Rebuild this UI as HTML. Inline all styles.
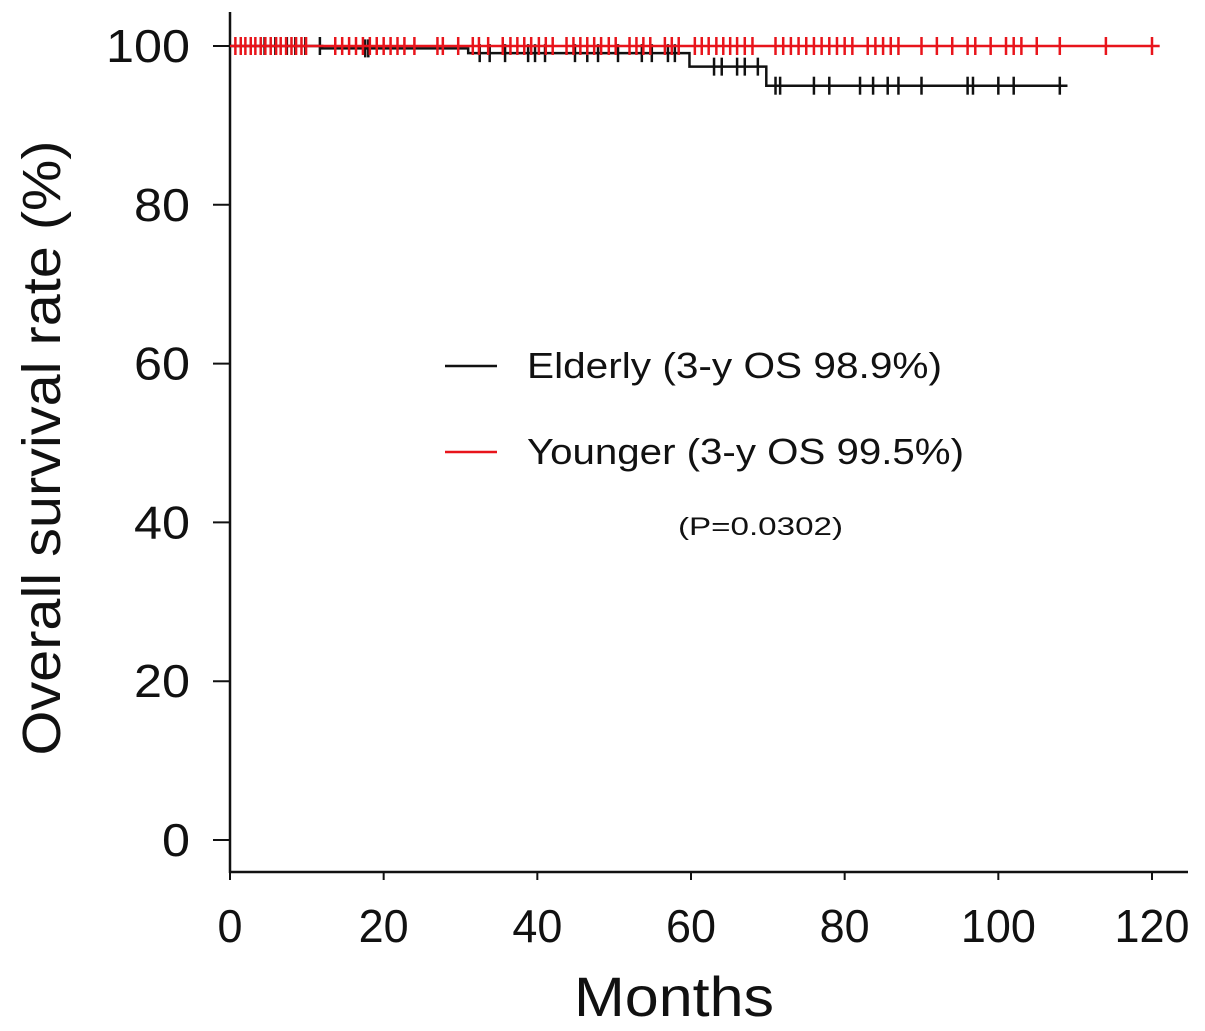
<!DOCTYPE html>
<html><head><meta charset="utf-8"><style>
html,body{margin:0;padding:0;background:#fff;}
svg{display:block;font-family:"Liberation Sans",sans-serif;}
</style></head><body>
<svg id="chart" width="1205" height="1031" viewBox="0 0 1205 1031">
<g id="axes"></g>
<g id="curves"></g>
<g>
 <line x1="445" y1="366" x2="497" y2="366" stroke="#111" stroke-width="2.5"/>
 <text x="527" y="378" font-size="36" textLength="415" lengthAdjust="spacingAndGlyphs" fill="#111">Elderly (3-y OS 98.9%)</text>
 <line x1="445" y1="452" x2="497" y2="452" stroke="#e8141b" stroke-width="2.5"/>
 <text x="527" y="464" font-size="36" textLength="437" lengthAdjust="spacingAndGlyphs" fill="#111">Younger (3-y OS 99.5%)</text>
 <text x="678" y="535" font-size="25" textLength="165" lengthAdjust="spacingAndGlyphs" fill="#111">(P=0.0302)</text>
</g>
</svg>
<script>
const xTicks=[0,20,40,60,80,100,120];
const yTicks=[0,20,40,60,80,100];
const elderlyStepTimes=[0,12,31,59.8,69.8,109];
const elderlyStepValues=[100,99.7,99.1,97.4,95.0,95.0];
const elderlyCensor=[4.5,5.9,7.4,8.5,9.8,11.7,17.6,18,32.5,33.8,35.8,38.8,39.7,41,44.9,46.5,47.9,50.5,53.6,54.9,57,57.9,63,64,66,67,68.7,71,71.6,76,78,82,83.7,85.6,87,90,96,96.7,100,102,108];
const youngerStepTimes=[0,121];
const youngerStepValues=[100,100];
const youngerCensor=[0.7,1.4,2,2.7,3.3,4,4.6,5.3,6,6.6,7.3,8,8.6,9.3,9.9,13.7,14.6,15.5,16.4,17.3,18.2,19.1,20,20.9,21.8,22.7,24,27,27.7,29.7,31.6,32.4,33.6,35.5,36.5,37.4,38.3,39.2,40.2,41.1,42,43.8,44.7,45.6,46.5,47.4,48.3,49.3,50.2,52,52.9,53.8,54.7,56.6,57.5,58.4,60.5,61.4,62.3,63.3,64.2,65.1,66,67,68,71,72,73,74,75,76,77,78,79,80,81,83,84,85,86,87,90,92,94,96,97,99,101,102,103,105,108,114,120];
const NS="http://www.w3.org/2000/svg";
const X=m=>230+m*(1152-230)/120;
const Y=v=>840-v*(840-46)/100;
function mk(tag,attrs,parent){const e=document.createElementNS(NS,tag);for(const k in attrs)e.setAttribute(k,attrs[k]);parent.appendChild(e);return e;}
const ax=document.getElementById('axes');
const ya=mk('line',{x1:230,y1:12,x2:230,y2:873,stroke:'#111','stroke-width':2.5},ax);


const xa=mk('line',{x1:229,y1:872,x2:1188,y2:872,stroke:'#111','stroke-width':2.5},ax);


xTicks.forEach(t=>{
 const l=mk('line',{x1:X(t),y1:872,x2:X(t),y2:880,stroke:'#111','stroke-width':2},ax);
 
 
 const s=String(t);
 const tx=mk('text',{x:X(t),y:942,'font-size':46,'text-anchor':'middle',fill:'#111',textLength:s.length*25,lengthAdjust:'spacingAndGlyphs'},ax);
 tx.textContent=s;
 
 
});
yTicks.forEach(t=>{
 const l=mk('line',{x1:213,y1:Y(t),x2:230,y2:Y(t),stroke:'#111','stroke-width':2},ax);
 
 
 const s=String(t);
 const tx=mk('text',{x:190,y:Y(t)+16,'font-size':46,'text-anchor':'end',fill:'#111',textLength:s.length*28,lengthAdjust:'spacingAndGlyphs'},ax);
 tx.textContent=s;
 
 
});
const xt=mk('text',{x:674,y:1016,'font-size':56,'text-anchor':'middle',fill:'#111',textLength:200,lengthAdjust:'spacingAndGlyphs'},ax);
xt.textContent='Months';


const yt=mk('text',{x:0,y:0,'font-size':54,'text-anchor':'middle',fill:'#111',textLength:615,lengthAdjust:'spacingAndGlyphs',transform:'translate(60,448) rotate(-90)'},ax);
yt.textContent='Overall survival rate (%)';


const cv=document.getElementById('curves');
function valAt(times,vals,t){let v=vals[0];for(let i=0;i<times.length;i++){if(times[i]<=t)v=vals[i];}return v;}
function drawCurve(times,vals,cens,color,name){
 const g=mk('g',{},cv);
 
 
 let d='M'+X(times[0])+','+Y(vals[0]);
 for(let i=1;i<times.length;i++){d+=' H'+X(times[i])+' V'+Y(vals[i]);}
 const p=mk('path',{d:d,fill:'none',stroke:color,'stroke-width':2.5},g);
 
 
 cens.forEach(c=>{
  const y=Y(valAt(times,vals,c));
  const m=mk('line',{x1:X(c),y1:y-9,x2:X(c),y2:y+9,stroke:color,'stroke-width':2.5},g);
  
  
 });
}
drawCurve(elderlyStepTimes,elderlyStepValues,elderlyCensor,'#111','elderly');
drawCurve(youngerStepTimes,youngerStepValues,youngerCensor,'#e8141b','younger');
</script>
</body></html>
